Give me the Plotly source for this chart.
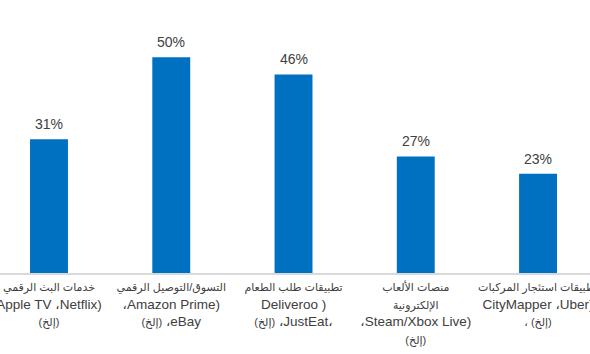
import plotly.graph_objects as go

AR = '<span style="font-size:11px">{}</span>'

categories = [
    AR.format("خدمات البث الرقمي") + "<br>Apple TV ،Netflix)<br>" + AR.format("(إلخ)"),
    AR.format("التسوق/التوصيل الرقمي") + "<br>،Amazon Prime)<br>" + AR.format("(إلخ)") + " ،eBay",
    AR.format("تطبيقات طلب الطعام") + "<br>Deliveroo )<br>" + AR.format("(إلخ)") + " ،JustEat،",
    AR.format("منصات الألعاب") + "<br>" + AR.format("الإلكترونية") + "<br>،Steam/Xbox Live)<br>" + AR.format("(إلخ)"),
    AR.format("تطبيقات استئجار المركبات") + "<br>CityMapper ،Uber)<br>" + AR.format("، (إلخ)"),
]
values = [31, 50, 46, 27, 23]
value_labels = ["31%", "50%", "46%", "27%", "23%"]

fig = go.Figure(
    go.Bar(
        x=categories,
        y=values,
        marker=dict(color="#0070C0", line=dict(width=0)),
        width=0.31,
    )
)

for c, v, t in zip(categories, values, value_labels):
    fig.add_annotation(
        x=c, y=v, text=t, showarrow=False,
        yanchor="middle", yshift=15,
        font=dict(family="Liberation Sans, Arial, sans-serif", size=14, color="#404040"),
    )

fig.update_layout(
    width=590,
    height=354,
    margin=dict(l=0, r=0, t=14, b=81),
    paper_bgcolor="white",
    plot_bgcolor="white",
    showlegend=False,
    font=dict(family="Liberation Sans, Arial, DejaVu Sans, sans-serif", size=13.5, color="#404040"),
)
fig.update_xaxes(
    type="category",
    range=[-0.4008, 4.425],
    tickangle=0,
    showline=True,
    linecolor="#d9d9d9",
    linewidth=1.5,
    showgrid=False,
    ticks="",
    automargin=False,
    tickfont=dict(size=13.5, color="#404040"),
)
fig.update_yaxes(
    range=[0, 60],
    visible=False,
    showgrid=False,
    zeroline=False,
)

fig.write_html("out.html")
